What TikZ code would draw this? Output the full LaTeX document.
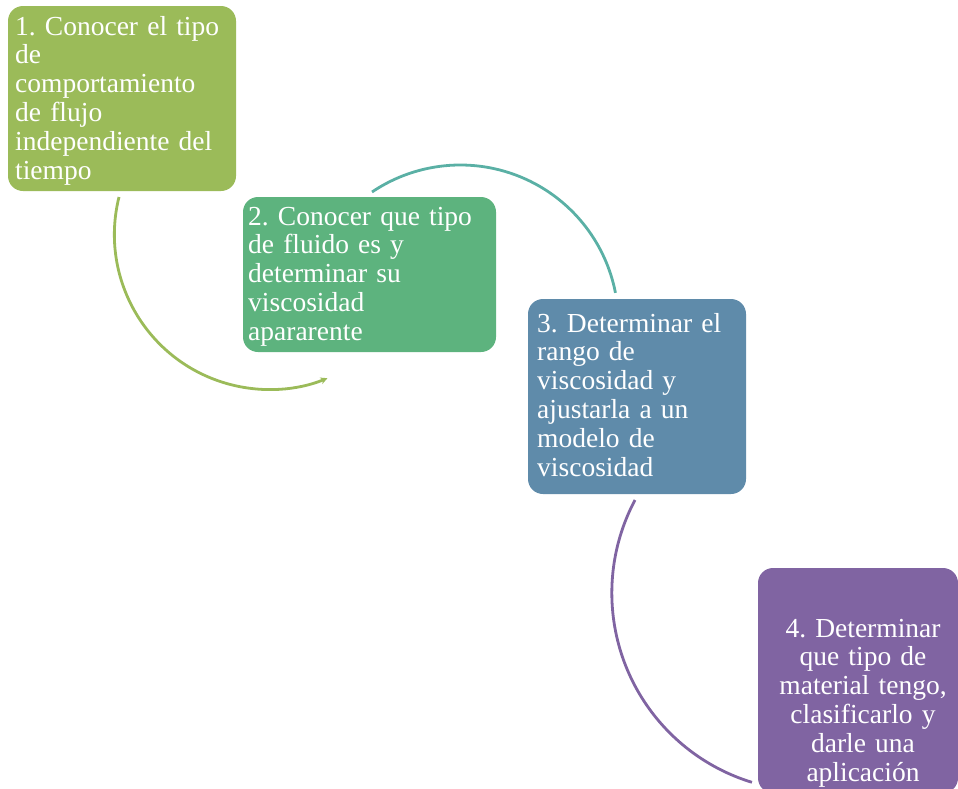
\documentclass[tikz,border=0pt]{standalone}
\usepackage{fontspec}
\setmainfont{Liberation Serif}
\usetikzlibrary{arrows.meta}
\frenchspacing
\definecolor{cone}{HTML}{9BBB59}
\definecolor{ctwo}{HTML}{5DB37E}
\definecolor{cthree}{HTML}{5F8BAA}
\definecolor{cfour}{HTML}{8064A2}
\definecolor{cteal}{HTML}{5AB0A5}
\tikzset{
  box/.style={rectangle, rounded corners=15pt, draw=none, inner sep=0pt},
  txt/.style={inner sep=0pt, text=white, font=\fontsize{27.5}{28.8}\selectfont},
  arcline/.style={line width=2.8pt}
}
\begin{document}
\begin{tikzpicture}[x=1pt,y=1pt]
\useasboundingbox (0,0) rectangle (958,-788);
\clip (0,0) rectangle (958,-788);
% arcs
\coordinate (s1) at (119,-197);
\coordinate (s2) at (372,-192);
\coordinate (s3) at (635,-500);
\draw[arcline, cone, -{Stealth[length=7pt,width=7pt]}] (s1) arc[start angle=166, end angle=292, radius=155];
\draw[arcline, cteal] (s2) arc[start angle=124, end angle=11, radius=158];
\draw[arcline, cfour] (s3) arc[start angle=152, end angle=253, radius=198];
% boxes
\node[box, fill=cone, minimum width=228pt, minimum height=185pt] (b1) at (122,-98.5) {};
\node[box, fill=ctwo, minimum width=253pt, minimum height=155pt] (b2) at (369.5,-274.5) {};
\node[box, fill=cthree, minimum width=218pt, minimum height=195pt] (b3) at (637,-396.5) {};
\node[box, fill=cfour, minimum width=200pt, minimum height=225pt] (b4) at (858,-680.5) {};
% texts
\node[txt, anchor=base west, text width=225pt, align=left] (t1) at (15,-35)
  {1. Conocer el tipo\\de\\comportamiento\\de flujo\\independiente del\\tiempo};
\node[txt, anchor=base west, text width=245pt, align=left] (t2) at (248,-225)
  {2. Conocer que tipo\\de fluido es y\\determinar su\\viscosidad\\apararente};
\node[txt, anchor=base west, text width=210pt, align=left] (t3) at (537,-332)
  {3. Determinar el\\rango de\\viscosidad y\\ajustarla a un\\modelo de\\viscosidad};
\node[txt, anchor=base, text width=190pt, align=center] (t4) at (863,-637)
  {4. Determinar\\que tipo de\\material tengo,\\clasificarlo y\\darle una\\aplicación};
\end{tikzpicture}
\end{document}
